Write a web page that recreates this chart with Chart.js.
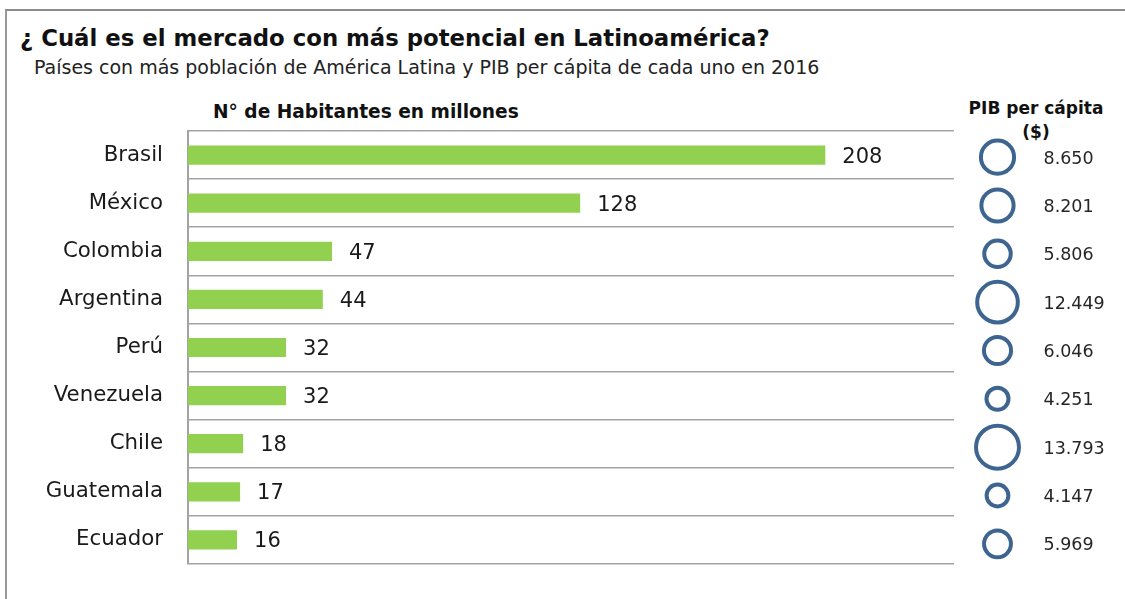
<!DOCTYPE html>
<html lang="es">
<head>
<meta charset="utf-8">
<title>Mercado con más potencial en Latinoamérica</title>
<script src="https://cdn.jsdelivr.net/npm/chart.js@4/dist/chart.umd.min.js"></script>
<style>
  html, body { margin: 0; padding: 0; background: #fff; }
  body { width: 1125px; height: 599px; position: relative; overflow: hidden; font-family: "DejaVu Sans", sans-serif; color: #1a1a1a; }
  .frame { position: absolute; left: 5px; top: 9px; width: 1200px; height: 700px;
           border-top: 2px solid #8c8c8c; border-left: 2px solid #999; }
  .txt { position: absolute; line-height: 1; white-space: nowrap; }
  canvas { position: absolute; top: 0; }
</style>
</head>
<body>
<div class="frame"></div>
<div class="txt" style="left:20px; top:27px; font-size:22.8px; font-weight:bold; color:#111;">¿ Cuál es el mercado con más potencial en Latinoamérica?</div>
<div class="txt" style="left:34px; top:58px; font-size:19px; color:#222;">Países con más población de América Latina y PIB per cápita de cada uno en 2016</div>
<div class="txt" style="left:213px; top:103px; font-size:18.6px; font-weight:bold; color:#111;">N° de Habitantes en millones</div>
<div class="txt" style="left:936px; width:200px; text-align:center; top:100px; font-size:17px; font-weight:bold; color:#111;">PIB per cápita</div>
<div class="txt" style="left:936px; width:200px; text-align:center; top:124px; font-size:17px; font-weight:bold; color:#111;">($)</div>

<canvas id="bars" width="1125" height="599" style="left:0;"></canvas>
<canvas id="bubbles" width="170" height="599" style="left:955px;"></canvas>

<script>
// Países más poblados de América Latina (2016)
const countries = ['Brasil', 'México', 'Colombia', 'Argentina', 'Perú', 'Venezuela', 'Chile', 'Guatemala', 'Ecuador'];
// Habitantes, en millones
const population = [208, 128, 47, 44, 32, 32, 18, 17, 16];
// PIB per cápita, en dólares
const pibPerCapita = [8650, 8201, 5806, 12449, 6046, 4251, 13793, 4147, 5969];

const GREEN = '#92D050';
const BLUE = '#3D6590';
const GRID = '#a3a3a3';
const BUBBLE_BORDER = 4;

// 12449 -> "12.449"
function formatThousands(v) {
  return String(v).replace(/\B(?=(\d{3})+(?!\d))/g, '.');
}

// Bubble area proportional to the value; r is measured to the middle of the stroke
function bubbleRadius(v) {
  return 0.2 * Math.sqrt(v) - BUBBLE_BORDER / 2;
}

Chart.defaults.font.family = '"DejaVu Sans", sans-serif';
Chart.defaults.color = '#1a1a1a';

// Number written at the end of every bar
const barValueLabels = {
  id: 'barValueLabels',
  afterDatasetsDraw(chart) {
    const ctx = chart.ctx;
    const meta = chart.getDatasetMeta(0);
    ctx.save();
    ctx.font = '21px "DejaVu Sans", sans-serif';
    ctx.fillStyle = '#1a1a1a';
    ctx.textAlign = 'left';
    ctx.textBaseline = 'middle';
    meta.data.forEach((bar, i) => {
      ctx.fillText(String(population[i]), bar.x + 17, bar.y + 2);
    });
    ctx.restore();
  }
};

// PIB value written to the right of every circle
const bubbleValueLabels = {
  id: 'bubbleValueLabels',
  afterDatasetsDraw(chart) {
    const ctx = chart.ctx;
    const meta = chart.getDatasetMeta(0);
    ctx.save();
    ctx.font = '17.5px "DejaVu Sans", sans-serif';
    ctx.fillStyle = '#262626';
    ctx.textAlign = 'left';
    ctx.textBaseline = 'middle';
    meta.data.forEach((pt, i) => {
      ctx.fillText(formatThousands(pibPerCapita[i]), pt.x + 46, pt.y + 2);
    });
    ctx.restore();
  }
};

new Chart(document.getElementById('bars'), {
  type: 'bar',
  data: {
    labels: countries,
    datasets: [{
      label: 'N° de Habitantes en millones',
      data: population,
      backgroundColor: GREEN,
      borderWidth: 0,
      categoryPercentage: 1,
      barPercentage: 0.4
    }]
  },
  options: {
    indexAxis: 'y',
    responsive: false,
    animation: false,
    devicePixelRatio: 1,
    layout: { autoPadding: false, padding: { top: 131, bottom: 35, left: 0, right: 171 } },
    plugins: {
      legend: { display: false },
      tooltip: { enabled: false }
    },
    scales: {
      x: { display: false, min: 0, max: 250 },
      y: {
        // fixed axis width; the category labels need no extra room above/below
        afterFit(scale) {
          scale.width = 188;
          scale.paddingTop = 0;
          scale.paddingBottom = 0;
        },
        grid: { color: GRID, lineWidth: 1.5, drawTicks: false, offset: true },
        border: { color: GRID, width: 2 },
        ticks: { padding: 25, color: '#1a1a1a', font: { size: 21.3 } }
      }
    }
  },
  plugins: [barValueLabels]
});

new Chart(document.getElementById('bubbles'), {
  type: 'bubble',
  data: {
    datasets: [{
      label: 'PIB per cápita ($)',
      data: countries.map((c, i) => ({ x: 0, y: c, r: bubbleRadius(pibPerCapita[i]) })),
      backgroundColor: 'rgba(255,255,255,0)',
      borderColor: BLUE,
      borderWidth: BUBBLE_BORDER,
      hoverBorderWidth: BUBBLE_BORDER,
      clip: false
    }]
  },
  options: {
    responsive: false,
    animation: false,
    devicePixelRatio: 1,
    layout: { autoPadding: false, padding: { top: 133, bottom: 31, left: 0, right: 0 } },
    plugins: {
      legend: { display: false },
      tooltip: { enabled: false }
    },
    scales: {
      x: { type: 'linear', display: false, min: -1, max: 3 },
      y: { type: 'category', labels: countries, offset: true, display: false }
    }
  },
  plugins: [bubbleValueLabels]
});
</script>
</body>
</html>
